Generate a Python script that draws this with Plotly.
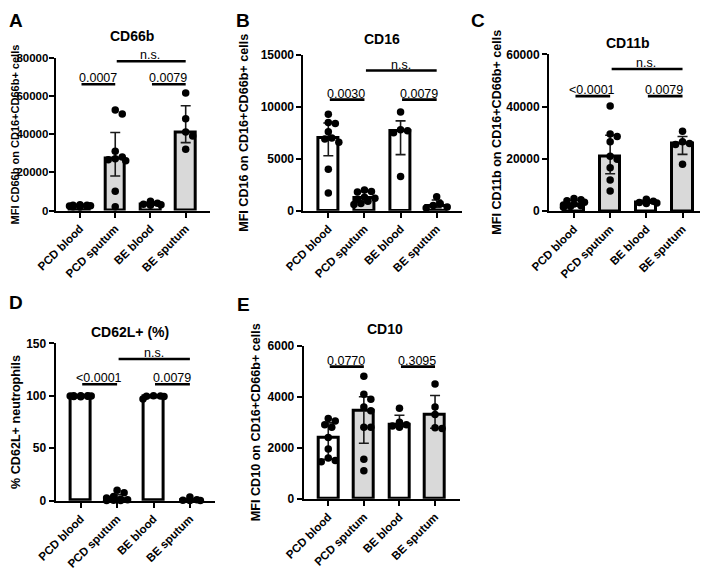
import numpy as np
import plotly.graph_objects as go

# ---------------- data ----------------
categories = ["PCD blood", "PCD sputum", "BE blood", "BE sputum"]

# A: MFI CD66b on CD16+CD66b+ cells
cd66b_pcd_blood = [3000, 2800, 2700, 2500, 2400, 2300, 2200, 2000, 1800]
cd66b_pcd_sputum = [52500, 50500, 31000, 28000, 27000, 26500, 26000, 10000, 2000]
cd66b_be_blood = [4800, 3800, 3300, 3000, 2700]
cd66b_be_sputum = [61500, 48000, 41000, 39000, 32000]

# B: MFI CD16
cd16_pcd_blood = [9300, 8500, 8400, 7600, 7000, 6900, 6600, 4000, 1700]
cd16_pcd_sputum = [2000, 1850, 1800, 1300, 1200, 1100, 900, 700, 600]
cd16_be_blood = [9500, 7800, 7700, 7500, 3300]
cd16_be_sputum = [1350, 700, 500, 350, 250]

# C: MFI CD11b
cd11b_pcd_blood = [4800, 4300, 3900, 3400, 2700, 2300, 2000, 1700, 1400]
cd11b_pcd_sputum = [40200, 29500, 28500, 26500, 21000, 19800, 16600, 11900, 7700]
cd11b_be_blood = [4500, 3700, 3300, 3100, 2900]
cd11b_be_sputum = [30600, 26500, 25900, 25500, 17900]

# D: % CD62L+ neutrophils
cd62l_pcd_blood = [100, 100, 99.9, 99.8, 99.7, 99.6, 99.5, 99.3, 99.0]
cd62l_pcd_sputum = [10, 7.5, 4, 2.5, 1.5, 1, 0.5, 0.3, 0.2]
cd62l_be_blood = [100, 99.8, 99.6, 99.4, 97]
cd62l_be_sputum = [3.5, 0.8, 0.4, 0.2, 0.1]

# E: MFI CD10
cd10_pcd_blood = [3150, 3050, 2900, 2800, 2400, 1950, 1600, 1500, 1450]
cd10_pcd_sputum = [4800, 4100, 3900, 3600, 3450, 2800, 2800, 1550, 1100]
cd10_be_blood = [3550, 3000, 2900, 2850, 2800]
cd10_be_sputum = [4500, 3600, 3300, 2780, 2750]

titles = ["CD66b", "CD16", "CD11b", "CD62L+ (%)", "CD10"]
panel_letters = ["A", "B", "C", "D", "E"]
y_titles = [
    "MFI CD66b on CD16+CD66b+ cells",
    "MFI CD16 on CD16+CD66b+ cells",
    "MFI CD11b on CD16+CD66b+ cells",
    "% CD62L+ neutrophils",
    "MFI CD10 on CD16+CD66b+ cells",
]
y_ticks = [
    [0, 20000, 40000, 60000, 80000],
    [0, 5000, 10000, 15000],
    [0, 20000, 40000, 60000],
    [0, 50, 100, 150],
    [0, 2000, 4000, 6000],
]
# p-value labels: [PCD blood vs sputum, BE blood vs sputum, PCD sputum vs BE sputum]
p_labels = [
    ["0.0007", "0.0079", "n.s."],
    ["0.0030", "0.0079", "n.s."],
    ["<0.0001", "0.0079", "n.s."],
    ["<0.0001", "0.0079", "n.s."],
    ["0.0770", "0.3095", "n.s."],
]
# bracket heights (data units)
bracket_pair_y = [66000, 10700, 44000, 111, 5180]
bracket_ns_y = [78000, 13500, 54400, 135, 6150]

panel_values = [
    [cd66b_pcd_blood, cd66b_pcd_sputum, cd66b_be_blood, cd66b_be_sputum],
    [cd16_pcd_blood, cd16_pcd_sputum, cd16_be_blood, cd16_be_sputum],
    [cd11b_pcd_blood, cd11b_pcd_sputum, cd11b_be_blood, cd11b_be_sputum],
    [cd62l_pcd_blood, cd62l_pcd_sputum, cd62l_be_blood, cd62l_be_sputum],
    [cd10_pcd_blood, cd10_pcd_sputum, cd10_be_blood, cd10_be_sputum],
]

# ---------------- layout geometry (pixels in the 708x569 window) ----------------
W, H = 708, 569
PAGE_MARGIN = 8  # default <body> margin of the html page
FONT = "Liberation Sans, Arial, Helvetica, sans-serif"
# (x_left, x_right, y_top, y_bottom) of each plot area
boxes = [
    (55.7, 210.0, 57.5, 210.5),
    (303.4, 461.6, 55.0, 210.7),
    (549.0, 707.5, 54.4, 211.0),
    (55.6, 215.0, 343.3, 500.7),
    (303.7, 459.6, 345.7, 498.7),
]
letter_pos = [(7, 8), (234, 8), (469, 8), (7, 290), (235, 292)]
title_pos = [(132, 36), (382, 39), (628, 43), (130, 332), (385, 329)]
ytitle_x = [15.4, 244, 497, 16, 256]
ytitle_size = [11, 12.6, 12.6, 12.6, 12.6]
ytick_size = [11.5, 12, 12, 12, 12]
ytick_standoff = [-2, 0, 0, 0, 0]
XR = [-0.69, 3.69]
bar_fill = ["white", "#d9d9d9", "white", "#d9d9d9"]


def px2fx(px):
    return (px - PAGE_MARGIN) / W


def px2fy(py):
    return 1 - (py - PAGE_MARGIN) / H


def swarm_offsets(vals, px_per_unit, px_per_cat, diam=7.0, max_half=12.0):
    ys = [v * px_per_unit for v in vals]
    order = sorted(range(len(vals)), key=lambda i: -vals[i])
    step = diam / 2.0
    cands = [0.0]
    k = 1
    while k * step <= max_half + 1e-6:
        cands += [k * step, -k * step]
        k += 1
    placed = []
    offs = [0.0] * len(vals)
    for i in order:
        y = ys[i]
        best, bestcost = None, None
        for c in cands:
            cost = sum(max(0.0, diam - np.hypot(c - px, y - py)) for px, py in placed)
            if cost < 1e-9:
                best = c
                break
            if bestcost is None or cost < bestcost:
                best, bestcost = c, cost
        offs[i] = best / px_per_cat
        placed.append((best, y))
    return offs


fig = go.Figure()
annotations = []
layout_axes = {}

for p in range(5):
    idx = p + 1
    xa = "x" if idx == 1 else f"x{idx}"
    ya = "y" if idx == 1 else f"y{idx}"
    x0, x1, yt, yb = boxes[p]
    ymax = y_ticks[p][-1]
    vals = panel_values[p]

    med, q1, q3 = [], [], []
    for v in vals:
        a, b, c = np.percentile(v, [25, 50, 75], method="weibull")
        q1.append(a)
        med.append(b)
        q3.append(c)

    fig.add_trace(go.Bar(
        x=list(range(4)), y=med, xaxis=xa, yaxis=ya, width=0.56,
        marker=dict(color=bar_fill, line=dict(color="black", width=3)),
        error_y=dict(type="data", symmetric=False,
                     array=[c - b for b, c in zip(med, q3)],
                     arrayminus=[b - a for a, b in zip(q1, med)],
                     color="#1a1a1a", thickness=1.6, width=5),
        showlegend=False, hoverinfo="skip",
    ))

    px_per_unit = (yb - yt) / ymax
    px_per_cat = (x1 - x0) / (XR[1] - XR[0])
    xs, ys = [], []
    for ci, v in enumerate(vals):
        offs = swarm_offsets(v, px_per_unit, px_per_cat)
        xs += [ci + o for o in offs]
        ys += list(v)
    fig.add_trace(go.Scatter(
        x=xs, y=ys, xaxis=xa, yaxis=ya, mode="markers",
        marker=dict(color="black", size=7.5, line=dict(width=0)),
        cliponaxis=False, showlegend=False, hoverinfo="skip",
    ))

    axkey = "xaxis" if idx == 1 else f"xaxis{idx}"
    aykey = "yaxis" if idx == 1 else f"yaxis{idx}"
    layout_axes[axkey] = dict(
        domain=[px2fx(x0), px2fx(x1)], anchor=ya, range=XR, automargin=False,
        tickmode="array", tickvals=list(range(4)), ticktext=categories,
        tickangle=-45, ticks="outside", ticklen=5, tickwidth=2, tickcolor="black",
        showline=True, linewidth=2, linecolor="black", showgrid=False, zeroline=False,
        tickfont=dict(family=FONT, size=11.5, color="black", weight="bold"),
        fixedrange=True,
    )
    layout_axes[aykey] = dict(
        domain=[px2fy(yb), px2fy(yt)], anchor=xa, range=[0, ymax], automargin=False,
        tickmode="array", tickvals=y_ticks[p], ticktext=[str(t) for t in y_ticks[p]],
        ticks="outside", ticklen=5, tickwidth=2, tickcolor="black",
        ticklabelstandoff=ytick_standoff[p],
        showline=True, linewidth=2, linecolor="black", showgrid=False, zeroline=False,
        tickfont=dict(family=FONT, size=ytick_size[p], color="black", weight="bold"),
        fixedrange=True,
    )

    # significance brackets (annotation lines, not clipped by the axes)
    pairs = [(0, 1, bracket_pair_y[p]), (2, 3, bracket_pair_y[p]), (1, 3, bracket_ns_y[p])]
    for (a, b, yy), lab in zip(pairs, p_labels[p]):
        annotations.append(dict(
            x=b, y=yy, ax=a, ay=yy, xref=xa, yref=ya, axref=xa, ayref=ya,
            text="", showarrow=True, arrowhead=0, arrowwidth=2.6, arrowcolor="black",
            standoff=0, startstandoff=0,
        ))
        annotations.append(dict(
            x=(a + b) / 2, y=yy, xref=xa, yref=ya, text=lab, showarrow=False,
            yanchor="bottom", xanchor="center", yshift=-3,
            font=dict(family=FONT, size=12.5, color="black"),
        ))

    lx, ly = letter_pos[p]
    annotations.append(dict(
        x=px2fx(lx), y=px2fy(ly), xref="paper", yref="paper", xanchor="left", yanchor="top",
        text=panel_letters[p], showarrow=False,
        font=dict(family=FONT, size=19, color="black", weight="bold"),
    ))
    tx, ty = title_pos[p]
    annotations.append(dict(
        x=px2fx(tx), y=px2fy(ty), xref="paper", yref="paper", xanchor="center", yanchor="middle",
        text=titles[p], showarrow=False,
        font=dict(family=FONT, size=14, color="black", weight="bold"),
    ))
    annotations.append(dict(
        x=px2fx(ytitle_x[p]), y=px2fy((yt + yb) / 2), xref="paper", yref="paper",
        xanchor="center", yanchor="middle", textangle=-90, borderpad=0,
        text=y_titles[p], showarrow=False,
        font=dict(family=FONT, size=ytitle_size[p], color="black", weight="bold"),
    ))

fig.update_layout(
    template="none",
    width=W, height=H, margin=dict(l=0, r=0, t=0, b=0, pad=0),
    paper_bgcolor="white", plot_bgcolor="white",
    font=dict(family=FONT, color="black"),
    annotations=annotations, bargap=0, **layout_axes,
)
fig.write_html("out.html")
